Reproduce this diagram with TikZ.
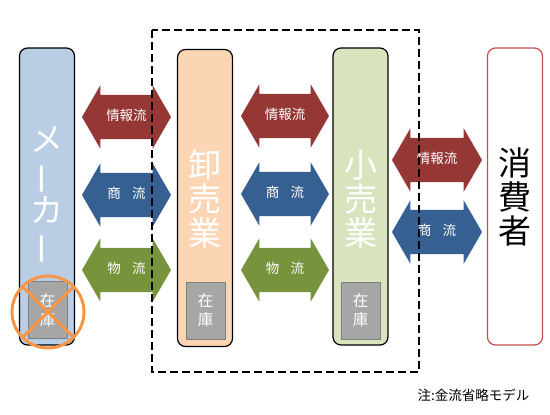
\documentclass[tikz,border=0pt]{standalone}
\usepackage{fontspec}
\setmainfont{Noto Sans CJK JP}
\usetikzlibrary{shapes.arrows}

\definecolor{infored}{HTML}{953735}
\definecolor{tradeblue}{HTML}{376092}
\definecolor{goodsgreen}{HTML}{77933C}
\definecolor{makerblue}{HTML}{B9CDE5}
\definecolor{wholesaleorange}{HTML}{FCD5B5}
\definecolor{retailgreen}{HTML}{D7E4BD}
\definecolor{consumerred}{HTML}{C0504D}
\definecolor{stockgray}{HTML}{A6A6A6}
\definecolor{stockedge}{HTML}{7F7F7F}
\definecolor{crossorange}{HTML}{F79646}

\tikzset{
  bar/.style={draw, line width=1.2pt, rounded corners=8pt,
    minimum width=55pt, minimum height=297pt},
  stock/.style={draw=stockedge, fill=stockgray, line width=0.8pt,
    minimum width=39pt, minimum height=57pt, inner sep=0pt,
    text=white, align=center, font=\fontsize{15.5}{19}\selectfont},
  flow/.style={double arrow, draw=none, text=white,
    font=\fontsize{13.5}{14}\selectfont,
    minimum height=89pt, minimum width=63pt,
    double arrow head extend=9.5pt, double arrow tip angle=120,
    text height=9pt, text depth=2pt, inner ysep=16.5pt, inner xsep=0pt},
  bigtext/.style={text=white, align=center, font=\fontsize{33}{34}\selectfont},
}
\newcommand{\vbar}{\rotatebox[origin=c]{90}{ー}}
\newcommand{\gap}{\hspace{0.85em}}

\begin{document}
\begin{tikzpicture}[x=1pt,y=-1pt]
\useasboundingbox (0,0) rectangle (550,415);

\node[bar, fill=makerblue] (maker) at (47,196.5) {};
\node[bar, fill=wholesaleorange] (wholesale) at (205,198) {};
\node[bar, fill=retailgreen] (retail) at (360.5,196.5) {};
\node[bar, draw=consumerred, fill=white] (consumer) at (515,196.5) {};

\node[bigtext] (makertext) at (47,196) {メ\\\vbar\\カ\\\vbar};
\node[bigtext] (wholesaletext) at (205,199) {卸\\売\\業};
\node[bigtext] (retailtext) at (360.5,199) {小\\売\\業};
\node[bigtext, text=black] (consumertext) at (515,197) {消\\費\\者};

\node[stock] (makerstock) at (47.5,310) {在\\庫};
\node[stock] (wholesalestock) at (205.5,310.5) {在\\庫};
\node[stock] (retailstock) at (360.5,310.5) {在\\庫};

\draw[crossorange, line width=3pt] (48,312) circle (36pt)
  (23,287) -- (73,337) (73,287) -- (23,337);

\node[flow, fill=infored] (info1) at (126.5,117) {情報流};
\node[flow, fill=tradeblue] (trade1) at (126.5,195) {商\gap 流};
\node[flow, fill=goodsgreen] (goods1) at (126.5,270) {物\gap 流};
\node[flow, fill=infored, minimum height=88pt] (info2) at (285,116) {情報流};
\node[flow, fill=tradeblue, minimum height=88pt] (trade2) at (285,194) {商\gap 流};
\node[flow, fill=goodsgreen, minimum height=88pt] (goods2) at (285,270) {物\gap 流};
\node[flow, fill=infored, minimum height=90pt] (info3) at (437,160) {情報流};
\node[flow, fill=tradeblue, minimum height=90pt] (trade3) at (437,232) {商\gap 流};

\draw[line width=1.3pt, dash pattern=on 8pt off 4pt] (152,30) rectangle (419,372);

\node[anchor=west, font=\fontsize{13.5}{14}\selectfont] (note) at (414,395) {注:金流省略モデル};
\end{tikzpicture}
\end{document}
